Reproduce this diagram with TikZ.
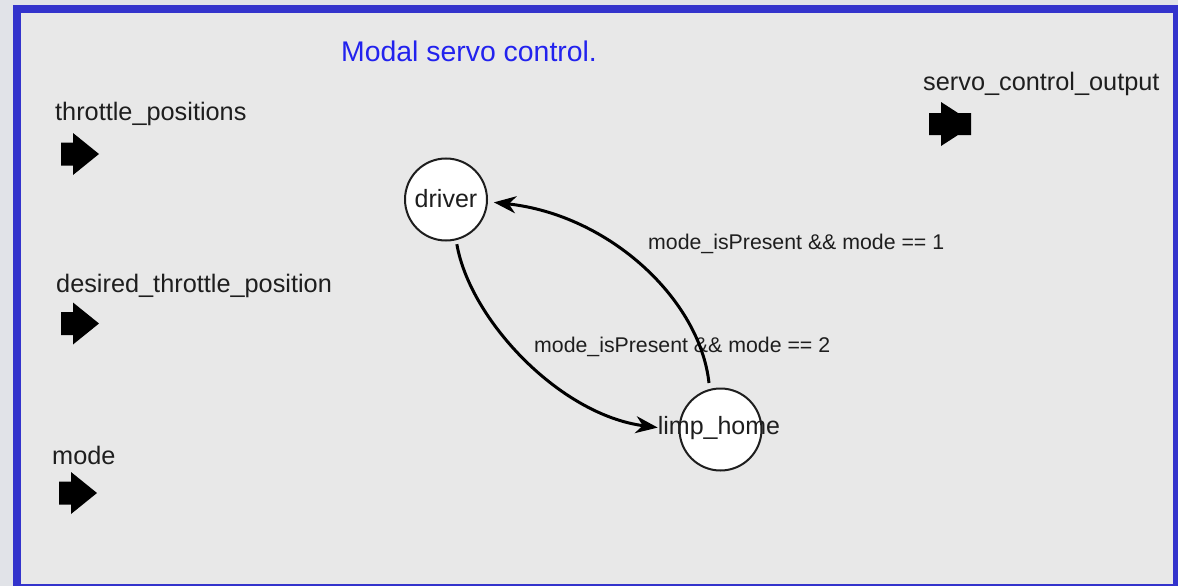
\documentclass[tikz,border=0pt]{standalone}
\usepackage{fontspec}
\setmainfont{Liberation Sans}
\usetikzlibrary{arrows.meta}
\definecolor{outerbg}{RGB}{225,227,232}
\definecolor{frameblue}{RGB}{51,51,204}
\definecolor{innerbg}{RGB}{232,232,232}
\definecolor{titleblue}{RGB}{34,34,238}
\definecolor{ink}{RGB}{30,30,30}
\begin{document}
\begin{tikzpicture}[x=1pt,y=-1pt,
  state/.style={circle, draw=ink, line width=2pt, fill=white, minimum size=82pt, inner sep=0pt},
  statetxt/.style={font=\fontsize{25}{30}\selectfont, text=ink, inner sep=0pt, anchor=base},
  portlbl/.style={font=\fontsize{25.3}{30}\selectfont, text=ink, inner sep=0pt, anchor=base west},
  edgelbl/.style={font=\fontsize{21.3}{25}\selectfont, text=ink, inner sep=0pt, anchor=base west},
  titlelbl/.style={font=\fontsize{28.4}{34}\selectfont, text=titleblue, inner sep=0pt, anchor=base west},
  trans/.style={line width=3pt, draw=black, -{Stealth[length=22pt,width=17pt,inset=7pt]}},
  inport/.pic={\fill[black] (0,-11.5) -- (12,-11.5) -- (12,-21) -- (38,0) -- (12,21) -- (12,11.5) -- (0,11.5) -- cycle;},
  outport/.pic={\fill[black] (0,-11) -- (12,-11) -- (12,-22) -- (29,-11) -- (42,-11) -- (42,11) -- (29,11) -- (12,22) -- (12,11) -- (0,11) -- cycle;}
]
\useasboundingbox (0,0) rectangle (1178,586);
\fill[outerbg] (0,0) rectangle (1178,586);
\fill[frameblue] (13,5) rectangle (1178,586);
\fill[innerbg] (21,13) rectangle (1173,584);

% title
\node[titlelbl] (title) at (341,62) {Modal servo control.};

% ports
\node[portlbl] (lthrottle) at (55,121) {throttle\_positions};
\pic (pthrottle) at (61,154) {inport};
\node[portlbl] (ldesired) at (56,292) {desired\_throttle\_position};
\pic (pdesired) at (61,323.5) {inport};
\node[portlbl] (lmode) at (52,464) {mode};
\pic (pmode) at (59,493) {inport};
\node[portlbl] (lservo) at (923,91) {servo\_control\_output};
\pic (pservo) at (929,124) {outport};

% states
\node[state] (driver) at (446,199.5) {};
\node[statetxt] (drivertxt) at (446,207) {driver};
\node[state] (limp) at (720.5,429.5) {};
\node[statetxt] (limptxt) at (719,434) {limp\_home};

% transition labels
\node[edgelbl] (t1lbl) at (648,249) {mode\_isPresent \&\& mode == 1};
\node[edgelbl] (t2lbl) at (534,352) {mode\_isPresent \&\& mode == 2};

% transitions
\draw[trans, shorten <=4pt] (driver.-76) .. controls (470,320) and (560,415) .. (limptxt.west);
\draw[trans, shorten <=6pt, shorten >=6pt] (limp.105) .. controls (700,300) and (610,215) .. (driver.-3);
\end{tikzpicture}
\end{document}
